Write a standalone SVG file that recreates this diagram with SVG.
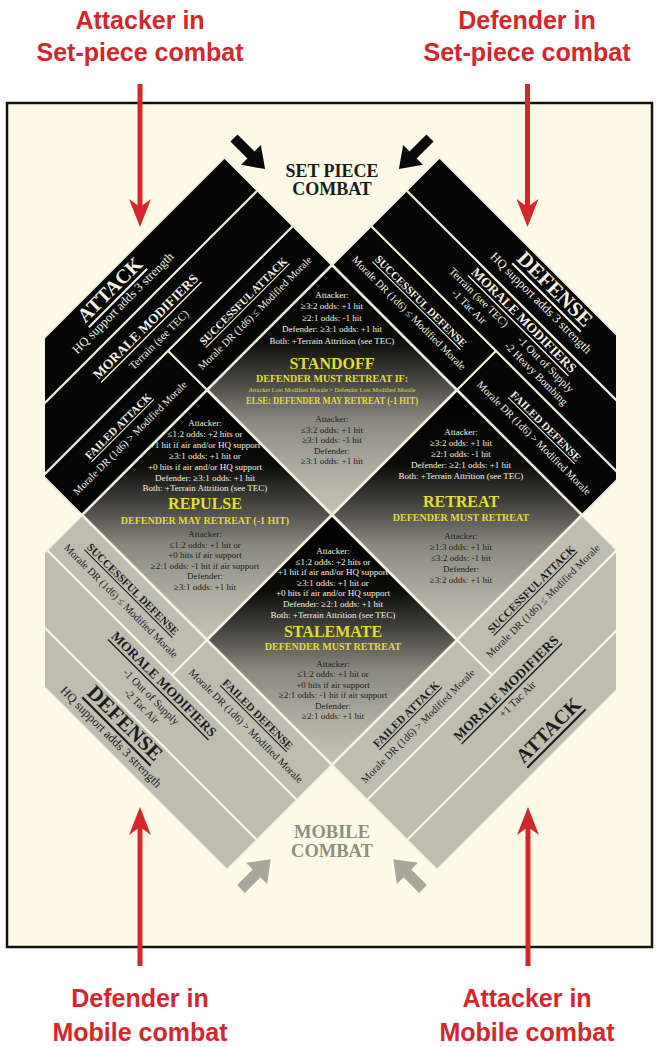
<svg xmlns="http://www.w3.org/2000/svg" width="657" height="1047" viewBox="0 0 657 1047">
<defs>
<style>
.sv{font-family:"Liberation Serif","DejaVu Serif",serif}
.w{fill:#f4f2e2}
.k{fill:#1c1c1c}
.yl{fill:#e3dc38;font-weight:bold}
.c{text-anchor:middle}
.b9{font-size:9px;text-anchor:middle}
.bt{text-anchor:middle;dominant-baseline:central}
.ttl{font-weight:bold;text-decoration:underline}
.blk{fill:#050505;stroke:#eeeddd;stroke-width:2}
.gry{fill:#bebdb0;stroke:#f6f4e4;stroke-width:2}
.dia{fill:url(#g);stroke:#f3f1e1;stroke-width:2.6}
.red{fill:#d3272c;font-family:"Liberation Sans",Arial,sans-serif;font-weight:bold;font-size:25px;text-anchor:middle}
.rl{stroke:#d3272c;stroke-width:5;fill:none}
</style>
<linearGradient id="g" x1="0" y1="0" x2="0" y2="1">
<stop offset="0" stop-color="#000"/>
<stop offset="0.3" stop-color="#0b0b0a"/>
<stop offset="0.5" stop-color="#55544e"/>
<stop offset="0.62" stop-color="#8a8980"/>
<stop offset="0.85" stop-color="#b3b2a6"/>
<stop offset="1" stop-color="#c3c2b5"/>
</linearGradient>
<clipPath id="clip"><rect x="43" y="0" width="571" height="1047"/></clipPath>
<marker id="ah" viewBox="0 0 28 22" markerWidth="28" markerHeight="22" markerUnits="userSpaceOnUse" refX="10" refY="11" orient="auto">
<path d="M0,0 L28,11 L0,22 L8,11 Z" fill="#d3272c"/>
</marker>
</defs>
<rect x="0" y="0" width="657" height="1047" fill="#fff"/>
<rect id="frame" x="7" y="103" width="645" height="844" fill="#fdfbe8" stroke="#111" stroke-width="2.5"/>

<g transform="translate(2,0)" class="sv">
<g clip-path="url(#clip)">
<g id="tl-attack"><polygon class="blk" points="222.5,157.5 255.5,190.5 5.5,440.5 -27.5,407.5"/>
<text transform="translate(107.5,289.5) rotate(-45)" class="bt w ttl" font-size="20">ATTACK</text>
<text transform="translate(121,303) rotate(-45)" class="bt w" font-size="12.5">HQ support adds 3 strength</text></g>
<g id="tl-morale"><polygon class="blk" points="255.5,190.5 291,226 41,476 5.5,440.5"/>
<text transform="translate(143.5,326.5) rotate(-45)" class="bt w ttl" font-size="13.5">MORALE MODIFIERS</text>
<text transform="translate(156.5,339.5) rotate(-45)" class="bt w" font-size="11">Terrain (see TEC)</text></g>
<g id="tl-successful-attack"><polygon class="blk" points="291,226 330,265 205,390 166,351"/>
<text transform="translate(241,301) rotate(-45)" class="bt w ttl" font-size="11">SUCCESSFUL ATTACK</text>
<text transform="translate(253,313) rotate(-45)" class="bt w" font-size="10.5">Morale DR (1d6) ≤ Modified Morale</text></g>
<g id="tl-failed-attack"><polygon class="blk" points="166,351 205,390 80,515 41,476"/>
<text transform="translate(116,426) rotate(-45)" class="bt w ttl" font-size="11">FAILED ATTACK</text>
<text transform="translate(128,438) rotate(-45)" class="bt w" font-size="10.5">Morale DR (1d6) &gt; Modified Morale</text></g>

<g id="tr-defense"><polygon class="blk" points="437.5,157.5 404.5,190.5 654.5,440.5 687.5,407.5"/>
<text transform="translate(553,289) rotate(45)" class="bt w ttl" font-size="21">DEFENSE</text>
<text transform="translate(539,303) rotate(45)" class="bt w" font-size="12.5">HQ support adds 3 strength</text></g>
<g id="tr-morale"><polygon class="blk" points="404.5,190.5 369,226 619,476 654.5,440.5"/>
<text transform="translate(522,320) rotate(45)" class="bt w ttl" font-size="13.5">MORALE MODIFIERS</text>
<text transform="translate(477,297) rotate(45)" class="bt w" font-size="11">Terrain (see TEC)</text>
<text transform="translate(467.5,306.5) rotate(45)" class="bt w" font-size="11">-1 Tac Air</text>
<text transform="translate(544,364) rotate(45)" class="bt w" font-size="11">-1 Out of Supply</text>
<text transform="translate(534.5,373.5) rotate(45)" class="bt w" font-size="11">-2 Heavy Bombing</text></g>
<g id="tr-successful-defense"><polygon class="blk" points="369,226 330,265 455,390 494,351"/>
<text transform="translate(419,301) rotate(45)" class="bt w ttl" font-size="11">SUCCESSFUL DEFENSE</text>
<text transform="translate(407,313) rotate(45)" class="bt w" font-size="10.5">Morale DR (1d6) ≤ Modified Morale</text></g>
<g id="tr-failed-defense"><polygon class="blk" points="494,351 455,390 580,515 619,476"/>
<text transform="translate(544,426) rotate(45)" class="bt w ttl" font-size="11">FAILED DEFENSE</text>
<text transform="translate(532,438) rotate(45)" class="bt w" font-size="10.5">Morale DR (1d6) &gt; Modified Morale</text></g>

<g id="bl-successful-defense"><polygon class="gry" points="80,515 205,640 170,675 45,550"/>
<text transform="translate(131,589) rotate(45)" class="bt k ttl" font-size="11">SUCCESSFUL DEFENSE</text>
<text transform="translate(119,601) rotate(45)" class="bt k" font-size="10.5">Morale DR (1d6) ≤ Modified Morale</text></g>
<g id="bl-failed-defense"><polygon class="gry" points="205,640 330,765 295,800 170,675"/>
<text transform="translate(256,714) rotate(45)" class="bt k ttl" font-size="11">FAILED DEFENSE</text>
<text transform="translate(244,726) rotate(45)" class="bt k" font-size="10.5">Morale DR (1d6) &gt; Modified Morale</text></g>
<g id="bl-morale"><polygon class="gry" points="45,550 295,800 255,840 5,590"/>
<text transform="translate(162,684) rotate(45)" class="bt k ttl" font-size="13.5">MORALE MODIFIERS</text>
<text transform="translate(149.5,696.5) rotate(45)" class="bt k" font-size="11">-1 Out of Supply</text>
<text transform="translate(140,706) rotate(45)" class="bt k" font-size="11">-2 Tac Air</text></g>
<g id="bl-defense"><polygon class="gry" points="5,590 255,840 225,870 -25,620"/>
<text transform="translate(123,723) rotate(45)" class="bt k ttl" font-size="21">DEFENSE</text>
<text transform="translate(109,737) rotate(45)" class="bt k" font-size="12.5">HQ support adds 3 strength</text></g>

<g id="br-successful-attack"><polygon class="gry" points="580,515 455,640 490,675 615,550"/>
<text transform="translate(529,589) rotate(-45)" class="bt k ttl" font-size="11">SUCCESSFUL ATTACK</text>
<text transform="translate(541,601) rotate(-45)" class="bt k" font-size="10.5">Morale DR (1d6) ≤ Modified Morale</text></g>
<g id="br-failed-attack"><polygon class="gry" points="455,640 330,765 365,800 490,675"/>
<text transform="translate(404,714) rotate(-45)" class="bt k ttl" font-size="11">FAILED ATTACK</text>
<text transform="translate(416,726) rotate(-45)" class="bt k" font-size="10.5">Morale DR (1d6) &gt; Modified Morale</text></g>
<g id="br-morale"><polygon class="gry" points="615,550 365,800 405,840 655,590"/>
<text transform="translate(504,688) rotate(-45)" class="bt k ttl" font-size="13.5">MORALE MODIFIERS</text>
<text transform="translate(515,699) rotate(-45)" class="bt k" font-size="11">+1 Tac Air</text></g>
<g id="br-attack"><polygon class="gry" points="655,590 405,840 435,870 685,620"/>
<text transform="translate(546,730) rotate(-45)" class="bt k ttl" font-size="20">ATTACK</text></g>
</g>

<g id="standoff"><polygon class="dia" points="330,265 455,390 330,515 205,390"/>
<g class="w b9"><text x="330" y="298">Attacker:</text><text x="330" y="309">≥3:2 odds: +1 hit</text><text x="330" y="320.5">≥2:1 odds: -1 hit</text><text x="330" y="332">Defender: ≥3:1 odds: +1 hit</text><text x="330" y="343.5">Both: +Terrain Attrition (see TEC)</text></g>
<text x="330" y="369" class="yl c" font-size="16">STANDOFF</text>
<text x="330" y="382" class="yl c" font-size="10">DEFENDER MUST RETREAT IF:</text>
<text x="330" y="391.5" class="c" fill="#e3dc38" font-size="6.3">Attacker Lost Modified Morale &gt; Defender Lost Modified Morale</text>
<text x="330" y="404" class="yl c" font-size="9.5" textLength="172" lengthAdjust="spacingAndGlyphs">ELSE: DEFENDER MAY RETREAT (-1 HIT)</text>
<g class="k b9"><text x="330" y="422">Attacker:</text><text x="330" y="432.5">≤3:2 odds: +1 hit</text><text x="330" y="443">≥3:1 odds: -1 hit</text><text x="330" y="453.5">Defender:</text><text x="330" y="464">≥3:1 odds: +1 hit</text></g></g>

<g id="repulse"><polygon class="dia" points="205,390 330,515 205,640 80,515"/>
<g class="w b9"><text x="203" y="426">Attacker:</text><text x="203" y="437">≤1:2 odds: +2 hits or</text><text x="203" y="448">+1 hit if air and/or HQ support</text><text x="203" y="459">≥3:1 odds: +1 hit or</text><text x="203" y="469.5">+0 hits if air and/or HQ support</text><text x="203" y="480.5">Defender: ≥3:1 odds: +1 hit</text><text x="203" y="491">Both: +Terrain Attrition (see TEC)</text></g>
<text x="203" y="509" class="yl c" font-size="16">REPULSE</text>
<text x="203" y="523.5" class="yl c" font-size="10">DEFENDER MAY RETREAT (-1 HIT)</text>
<g class="k b9"><text x="203" y="537">Attacker:</text><text x="203" y="547.5">≤1:2 odds: +1 hit or</text><text x="203" y="558">+0 hits if air support</text><text x="203" y="568.5">≥2:1 odds: -1 hit if air support</text><text x="203" y="579">Defender:</text><text x="203" y="589.5">≥3:1 odds: +1 hit</text></g></g>

<g id="retreat"><polygon class="dia" points="455,390 580,515 455,640 330,515"/>
<g class="w b9"><text x="459" y="435">Attacker:</text><text x="459" y="446">≥3:2 odds: +1 hit</text><text x="459" y="456.5">≥2:1 odds: -1 hit</text><text x="459" y="467.5">Defender: ≥2:1 odds: +1 hit</text><text x="459" y="479">Both: +Terrain Attrition (see TEC)</text></g>
<text x="459" y="507" class="yl c" font-size="16">RETREAT</text>
<text x="459" y="521" class="yl c" font-size="10">DEFENDER MUST RETREAT</text>
<g class="k b9"><text x="459" y="539">Attacker:</text><text x="459" y="550">≥1:3 odds: +1 hit</text><text x="459" y="561">≤3:2 odds: -1 hit</text><text x="459" y="572">Defender:</text><text x="459" y="583">≥3:2 odds: +1 hit</text></g></g>

<g id="stalemate"><polygon class="dia" points="330,515 455,640 330,765 205,640"/>
<g class="w b9"><text x="331" y="554">Attacker:</text><text x="331" y="564.5">≤1:2 odds: +2 hits or</text><text x="331" y="575">+1 hit if air and/or HQ support</text><text x="331" y="585.5">≥3:1 odds: +1 hit or</text><text x="331" y="596">+0 hits if air and/or HQ support</text><text x="331" y="607">Defender: ≥2:1 odds: +1 hit</text><text x="331" y="618">Both: +Terrain Attrition (see TEC)</text></g>
<text x="331" y="637" class="yl c" font-size="16">STALEMATE</text>
<text x="331" y="650" class="yl c" font-size="10">DEFENDER MUST RETREAT</text>
<g class="k b9"><text x="331" y="666.5">Attacker:</text><text x="331" y="677">≤1:2 odds: +1 hit or</text><text x="331" y="687.5">+0 hits if air support</text><text x="331" y="698">≥2:1 odds: -1 hit if air support</text><text x="331" y="708.5">Defender:</text><text x="331" y="719">≥2:1 odds: +1 hit</text></g></g>

<g id="set-piece-combat">
<polygon points="0,-5 24,-5 24,-14 44,0 24,14 24,5 0,5" fill="#0a0a0a" transform="translate(232,138) rotate(45)"/>
<polygon points="0,-5 24,-5 24,-14 44,0 24,14 24,5 0,5" fill="#0a0a0a" transform="translate(428,138) rotate(135)"/>
<text x="330" y="177" class="c" font-weight="bold" font-size="18" fill="#1a1a1a">SET PIECE</text>
<text x="330" y="195" class="c" font-weight="bold" font-size="18" fill="#1a1a1a">COMBAT</text></g>

<g id="mobile-combat">
<polygon points="0,-5.5 22,-5.5 22,-15 42,0 22,15 22,5.5 0,5.5" fill="#a8a79b" transform="translate(239,889) rotate(-45)"/>
<polygon points="0,-5.5 22,-5.5 22,-15 42,0 22,15 22,5.5 0,5.5" fill="#a8a79b" transform="translate(421,889) rotate(-135)"/>
<text x="330" y="838" class="c" font-weight="bold" font-size="18.5" fill="#8e8d82">MOBILE</text>
<text x="330" y="857" class="c" font-weight="bold" font-size="18.5" fill="#8e8d82">COMBAT</text></g>
</g>

<g id="label-attacker-setpiece"><text x="140" y="29" class="red">Attacker in</text><text x="140" y="61" class="red">Set-piece combat</text></g>
<g id="label-defender-setpiece"><text x="527" y="29" class="red">Defender in</text><text x="527" y="61" class="red">Set-piece combat</text></g>
<g id="label-defender-mobile"><text x="140" y="1007" class="red">Defender in</text><text x="140" y="1041" class="red">Mobile combat</text></g>
<g id="label-attacker-mobile"><text x="527" y="1007" class="red">Attacker in</text><text x="527" y="1041" class="red">Mobile combat</text></g>

<g id="connectors">
<line class="rl" x1="140" y1="84" x2="140" y2="209" marker-end="url(#ah)"/>
<line class="rl" x1="527.5" y1="84" x2="527.5" y2="209" marker-end="url(#ah)"/>
<line class="rl" x1="140" y1="966" x2="140" y2="825" marker-end="url(#ah)"/>
<line class="rl" x1="528" y1="966" x2="528" y2="825" marker-end="url(#ah)"/>
</g>
</svg>
